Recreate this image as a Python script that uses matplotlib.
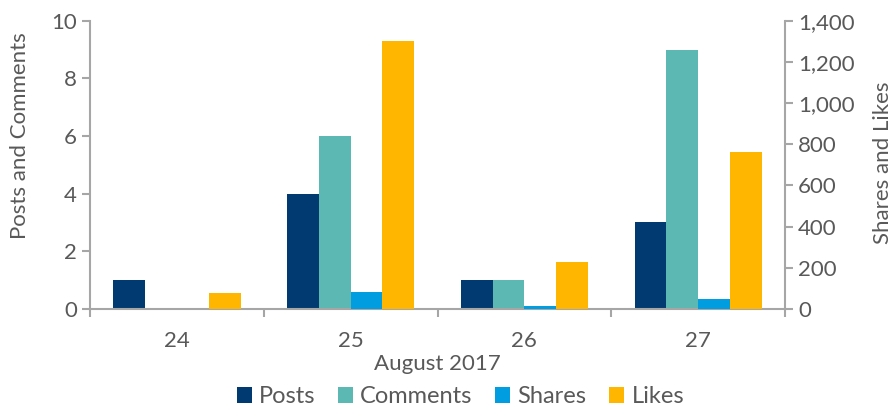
import matplotlib.pyplot as plt
import matplotlib.ticker as mticker
import numpy as np

plt.rcParams['font.family'] = ['Lato', 'DejaVu Sans']

days = ['24', '25', '26', '27']
posts = [1, 4, 1, 3]
comments = [0, 6, 1, 9]
shares = [0, 80, 12, 50]
likes = [75, 1300, 228, 762]

grey = '#595959'
axis_col = '#a6a6a6'
c_posts, c_comments, c_shares, c_likes = '#003a70', '#5bb8b2', '#009ee0', '#ffb600'

fig = plt.figure(figsize=(8.92, 4.08), dpi=100)
ax = fig.add_axes([0.101, 0.243, 0.779, 0.706])
ax2 = ax.twinx()

x = np.arange(len(days))
w = 0.183
ax.bar(x - 1.5 * w, posts, w, color=c_posts, label='Posts')
ax.bar(x - 0.5 * w, comments, w, color=c_comments, label='Comments')
ax2.bar(x + 0.5 * w, shares, w, color=c_shares, label='Shares')
ax2.bar(x + 1.5 * w, likes, w, color=c_likes, label='Likes')

ax.set_xlim(-0.5, len(days) - 0.5)
ax.set_ylim(0, 10)
ax2.set_ylim(0, 1400)
ax.set_yticks(range(0, 11, 2))
ax2.set_yticks(range(0, 1401, 200))
ax2.yaxis.set_major_formatter(mticker.StrMethodFormatter('{x:,.0f}'))

ax.set_xticks(x)
ax.set_xticklabels(days)
ax.set_xticks(np.arange(-0.5, len(days)), minor=True)
ax.tick_params(axis='x', which='major', length=0, pad=16)
ax.tick_params(axis='x', which='minor', length=6, width=1.5, color=axis_col)

for a in (ax, ax2):
    a.spines['top'].set_visible(False)
    for s in ('left', 'right', 'bottom'):
        a.spines[s].set_color(axis_col)
        a.spines[s].set_linewidth(1.5)
    a.tick_params(axis='y', length=6, width=1.5, color=axis_col, labelsize=16, labelcolor=grey)
    a.tick_params(axis='x', labelsize=16, labelcolor=grey)
ax.spines['right'].set_visible(False)
ax2.spines['left'].set_visible(False)
ax2.spines['bottom'].set_visible(False)

ax.set_ylabel('Posts and Comments', fontsize=16, color=grey)
ax.yaxis.set_label_coords(-0.086, 0.6)
ax2.set_ylabel('Shares and Likes', fontsize=16, color=grey)
ax2.yaxis.set_label_coords(1.126, 0.507)
ax.set_xlabel('August 2017', fontsize=16, color=grey, labelpad=2)

h1, l1 = ax.get_legend_handles_labels()
h2, l2 = ax2.get_legend_handles_labels()
fig.legend(h1 + h2, l1 + l2, loc='lower center', bbox_to_anchor=(0.516, -0.05), ncol=4,
           frameon=False, fontsize=17, labelcolor=grey, handlelength=0.65, handleheight=0.65,
           handletextpad=0.3, columnspacing=0.95)

fig.savefig('out.png', dpi=100)
